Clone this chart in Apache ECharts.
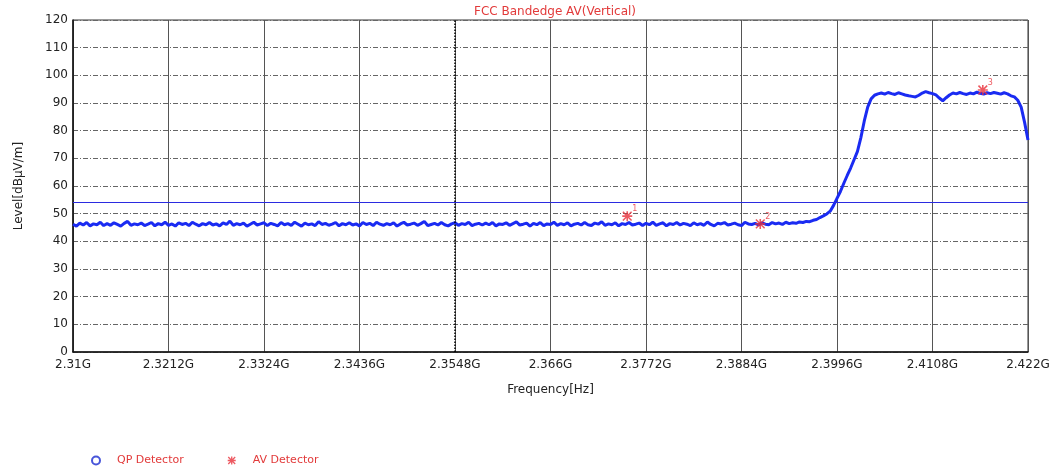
<!DOCTYPE html>
<html>
<head>
<meta charset="utf-8">
<script src="https://cdn.jsdelivr.net/npm/echarts@6/dist/echarts.min.js"></script>
<style>
  html, body { margin: 0; padding: 0; background: #fff; }
  #main { width: 1056px; height: 470px; }
</style>
</head>
<body>
<div id="main"></div>
<script>
// sweep: 2.31G .. 2.422G, one point per 0.4 MHz
const startGHz = 2.31;
const stepGHz = 0.0004;
const traceLevel = [
  46.2, 45.5, 46.6, 45.9, 46.8, 45.6, 46.3, 46.0, 46.9, 45.7, 46.4, 45.8, 46.7, 46.1, 45.5, 46.5, 47.2, 45.8, 46.3, 46.0,
  46.6, 45.7, 46.2, 46.8, 45.6, 46.4, 46.0, 46.9, 45.8, 46.3, 45.5, 46.7, 46.1, 46.5, 45.7, 46.9, 46.2, 45.6, 46.4, 46.0,
  46.8, 45.9, 46.3, 45.6, 46.7, 46.1, 47.3, 45.8, 46.4, 46.0, 46.6, 45.5, 46.2, 46.9, 45.9, 46.3, 46.7, 45.7, 46.5, 46.1,
  45.6, 46.8, 46.0, 46.4, 45.8, 46.9, 46.2, 45.5, 46.6, 46.0, 46.3, 45.7, 47.1, 46.1, 46.5, 45.8, 46.2, 46.8, 45.6, 46.4,
  46.0, 46.7, 45.9, 46.3, 45.6, 46.8, 46.1, 46.5, 45.7, 46.9, 46.2, 45.8, 46.4, 46.0, 46.7, 45.5, 46.3, 46.9, 45.9, 46.2,
  46.6, 45.8, 46.4, 47.2, 45.7, 46.1, 46.5, 45.9, 46.8, 46.0, 45.6, 46.3, 46.7, 45.8, 46.4, 46.1, 46.9, 45.7, 46.2, 46.5,
  45.9, 46.6, 46.0, 46.8, 45.6, 46.3, 46.1, 46.7, 45.8, 46.4, 47.0, 45.9, 46.2, 46.6, 45.5, 46.5, 46.0, 46.8, 45.7, 46.3,
  46.1, 46.9, 45.8, 46.4, 46.0, 46.7, 45.6, 46.2, 46.5, 45.9, 46.8, 46.0, 45.7, 46.6, 46.2, 47.1, 45.8, 46.3, 46.0, 46.7,
  45.6, 46.4, 46.1, 46.8, 45.9, 46.2, 46.6, 45.7, 46.5, 46.0, 46.9, 45.8, 46.3, 46.7, 45.6, 46.4, 46.1, 46.8, 45.9, 46.5,
  46.2, 45.7, 46.7, 46.0, 46.4, 45.8, 47.0, 46.1, 45.6, 46.5, 46.3, 46.8, 45.9, 46.2, 46.6, 46.0, 45.7, 46.9, 46.3, 46.1,
  46.5, 45.9, 46.7, 46.2, 46.0, 46.8, 46.3, 46.6, 46.1, 46.9, 46.4, 46.7, 46.5, 47.0, 46.8, 47.2, 47.1, 47.6, 47.9,
  48.6, 49.2, 49.9, 50.9, 53.0, 55.5, 58.0, 61.0, 63.8, 66.5, 69.5, 72.5, 77.5, 83.5, 88.5, 91.5, 92.8, 93.3,
  93.6, 93.2, 93.8, 93.4, 93.1, 93.7, 93.3, 92.9, 92.6, 92.4, 92.2, 92.8, 93.6, 94.1, 93.7, 93.4, 92.9, 91.8, 90.8, 91.9,
  92.9, 93.6, 93.3, 93.8, 93.4, 93.1, 93.6, 93.3, 93.9, 93.5, 93.2, 93.7, 93.4, 93.8, 93.5, 93.2, 93.7, 93.3, 92.6, 92.2,
  91.0, 88.5, 83.0, 76.6
];

// AV detector markers
const avFreqGHz = [2.3750, 2.3906, 2.4167];
const avLevel = [49.1, 46.3, 94.7];
const avLabels = ['1', '2', '3'];

const limitLevel = 54;
const centerFreqGHz = 2.3548;

const xTicksGHz = [2.31, 2.3212, 2.3324, 2.3436, 2.3548, 2.366, 2.3772, 2.3884, 2.3996, 2.4108, 2.422];
const yTicks = [0, 10, 20, 30, 40, 50, 60, 70, 80, 90, 100, 110, 120];

// x axis runs in MHz above 2.31G so the tick interval lines up with min
const toX = g => (g - startGHz) * 1000;
const xStep = toX(xTicksGHz[1]);

const traceData = traceLevel.map((v, i) => [i * stepGHz * 1000, v]);
const avData = avFreqGHz.map((f, i) => [toX(f), avLevel[i]]);

const asterisk = 'path://M4.2,0h1.6v10h-1.6z M0,4.2h10v1.6h-10z M1.2,0.1L9.9,8.8L8.8,9.9L0.1,1.2z M8.8,0.1L9.9,1.2L1.2,9.9L0.1,8.8z';
const font = 'DejaVu Sans';

var myChart = echarts.init(document.getElementById('main'));
myChart.setOption({
  animation: false,
  textStyle: { fontFamily: font },
  title: {
    text: 'FCC Bandedge AV(Vertical)',
    left: 550,
    textAlign: 'center',
    top: 1,
    textStyle: { color: '#e23a3a', fontSize: 12, fontWeight: 'normal', fontFamily: font }
  },
  legend: {
    left: 86,
    top: 450,
    itemWidth: 8,
    itemHeight: 8,
    itemGap: 44,
    textStyle: { color: '#e23a3a', fontSize: 11, fontFamily: font, padding: [0, 0, 0, 12] },
    data: ['QP Detector', 'AV Detector']
  },
  grid: {
    left: 73, right: 28, top: 20, bottom: 118,
    show: true, borderColor: '#333', borderWidth: 1
  },
  xAxis: {
    type: 'value',
    min: 0,
    max: toX(xTicksGHz[xTicksGHz.length - 1]),
    interval: xStep,
    name: 'Frequency[Hz]',
    nameLocation: 'middle',
    nameGap: 32,
    nameTextStyle: { color: '#222', fontSize: 12, fontFamily: font },
    axisLine: { lineStyle: { color: '#111', width: 1.5 } },
    axisTick: { show: false },
    axisLabel: {
      color: '#222', fontSize: 12, margin: 7,
      formatter: v => (startGHz + v / 1000).toFixed(4).replace(/0+$/, '').replace(/\.$/, '') + 'G'
    },
    splitLine: { show: true, lineStyle: { color: '#555', width: 1, type: 'solid' } }
  },
  yAxis: {
    type: 'value',
    min: yTicks[0],
    max: yTicks[yTicks.length - 1],
    interval: yTicks[1] - yTicks[0],
    name: 'Level[dBμV/m]',
    nameLocation: 'middle',
    nameGap: 48,
    nameTextStyle: { color: '#222', fontSize: 12, fontFamily: font },
    axisLine: { show: true, lineStyle: { color: '#111', width: 1.5 } },
    axisTick: { show: false },
    axisLabel: { color: '#222', fontSize: 12, margin: 5 },
    splitLine: { show: true, lineStyle: { color: '#666', width: 1, type: [5, 2, 1, 2] } }
  },
  series: [
    {
      name: 'Trace',
      type: 'line',
      data: traceData,
      showSymbol: false,
      lineStyle: { color: '#1a2bf2', width: 3 },
      z: 3,
      markLine: {
        silent: true,
        symbol: 'none',
        label: { show: false },
        data: [
          { yAxis: limitLevel, lineStyle: { color: '#2b2be0', width: 1, type: 'solid' } },
          { xAxis: toX(centerFreqGHz), lineStyle: { color: '#000', width: 1.5, type: 'dotted' } }
        ]
      }
    },
    {
      name: 'QP Detector',
      type: 'scatter',
      data: [],
      symbol: 'circle',
      itemStyle: { color: '#fff', borderColor: '#1a2bd0', borderWidth: 2 }
    },
    {
      name: 'AV Detector',
      type: 'scatter',
      data: avData,
      symbol: asterisk,
      symbolSize: 10,
      itemStyle: { color: '#e8303a' },
      z: 5,
      label: {
        show: true,
        position: [10, -6],
        fontSize: 8,
        color: '#e8303a',
        formatter: p => avLabels[p.dataIndex]
      }
    }
  ]
});
</script>
</body>
</html>
